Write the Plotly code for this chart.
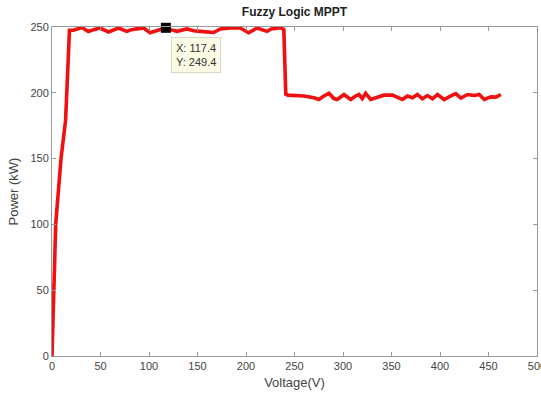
import plotly.graph_objects as go

# Voltage (V) and Power (kW)
voltage = [0, 3.8, 9.3, 14.0, 18.0, 22.0, 30.7, 37.6, 43.0, 49.6, 58.2, 63.0, 68.5, 77.2, 82.0,
           87.5, 94.4, 101.2, 108.1, 117.4, 123.0, 128.8, 139.1, 146.0, 152.9, 160.0, 166.6,
           173.5, 183.8, 194.1, 202.7, 211.3, 221.7, 226.0, 232.0, 236.0, 239.0, 241.0, 243.1,
           252.0, 259.6, 270.0, 275.1, 280.3, 285.5, 290.6, 294.1, 301.0, 307.9, 313.0, 316.5,
           319.9, 323.3, 328.5, 335.4, 342.3, 350.9, 356.1, 361.2, 366.4, 371.6, 376.7, 381.9,
           387.1, 392.2, 397.4, 404.3, 411.2, 416.3, 421.5, 428.4, 435.2, 440.4, 445.6, 452.5,
           457.6, 462.8]
power = [0, 100, 150, 179, 247.5, 247.5, 249.6, 246.6, 248.0, 249.2, 246.2, 247.5, 249.2, 246.7, 248.0,
         248.6, 249.2, 245.6, 247.5, 249.4, 247.8, 246.7, 248.5, 247.2, 246.7, 246.0, 245.8,
         248.5, 249.2, 249.2, 245.6, 249.2, 246.7, 248.5, 249.0, 249.4, 248.0, 199.0, 198.2,
         198.0, 197.6, 196.2, 194.9, 197.6, 199.6, 195.6, 194.9, 198.7, 194.9, 197.6, 198.7,
         195.6, 199.6, 194.9, 196.9, 198.2, 198.2, 196.7, 194.9, 197.6, 196.2, 198.7, 195.4,
         197.9, 195.4, 198.7, 194.9, 197.6, 199.4, 196.0, 198.7, 198.0, 198.7, 194.9, 196.9,
         196.7, 198.7]

tip_x = [117.4]
tip_y = [249.4]
tip_text = "X: 117.4<br>Y: 249.4"

x_ticks = [0, 50, 100, 150, 200, 250, 300, 350, 400, 450, 500]
y_ticks = [0, 50, 100, 150, 200, 250]

fig = go.Figure()
fig.add_trace(go.Scatter(x=voltage, y=power, mode="lines",
                         line=dict(color="#f01010", width=3.6), showlegend=False))
fig.add_trace(go.Scatter(x=tip_x, y=tip_y, mode="markers",
                         marker=dict(color="black", size=10, symbol="square"),
                         showlegend=False, cliponaxis=False))
fig.add_annotation(x=tip_x[0], y=tip_y[0], xref="x", yref="y", text=tip_text,
                   showarrow=False, xanchor="left", yanchor="top", xshift=5, yshift=-9,
                   align="left", bgcolor="#fbfbe6", bordercolor="#d8d8c8", borderwidth=1,
                   borderpad=4, font=dict(family="Liberation Sans, Arial", size=11, color="#333"))

axis_common = dict(showline=True, linecolor="#999", linewidth=1, mirror="ticks",
                   ticks="inside", ticklen=4, tickcolor="#999", showgrid=False,
                   zeroline=False, ticklabeloverflow="allow", automargin=False,
                   tickfont=dict(family="Liberation Sans, Arial", size=11, color="#444"))

fig.update_layout(
    width=541, height=400,
    margin=dict(l=52, r=4, t=27, b=44),
    plot_bgcolor="white", paper_bgcolor="white",
    title=dict(text="<b>Fuzzy Logic MPPT</b>", x=0.5, xref="paper", y=0.97, yref="container",
               xanchor="center", yanchor="middle",
               font=dict(family="Liberation Sans, Arial", size=12, color="#222")),
    xaxis=dict(range=[0, 500], tickvals=x_ticks,
               title=dict(text="Voltage(V)", standoff=6,
                          font=dict(family="Liberation Sans, Arial", size=13, color="#444")),
               **axis_common),
    yaxis=dict(range=[0, 250], tickvals=y_ticks,
               title=dict(text="Power (kW)", standoff=8,
                          font=dict(family="Liberation Sans, Arial", size=13, color="#444")),
               **axis_common),
)

fig.write_html("out.html")
